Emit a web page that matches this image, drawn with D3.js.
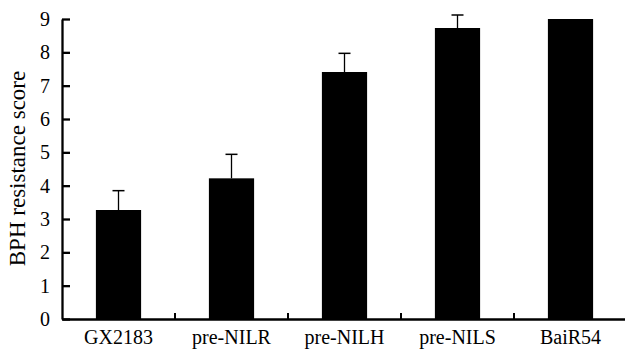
<!DOCTYPE html>
<html>
<head>
<meta charset="utf-8">
<script src="https://cdn.jsdelivr.net/npm/d3@7"></script>
<style>
  body { margin: 0; background: #fff; }
  text { font-family: "Liberation Serif", "Times New Roman", serif; fill: #000; }
</style>
</head>
<body>
<div id="wrapper"></div>
<script>
const lines = ["GX2183", "pre-NILR", "pre-NILH", "pre-NILS", "BaiR54"];
const scores = [3.27, 4.22, 7.41, 8.73, 9.0];
const errors = [0.58, 0.72, 0.56, 0.39, 0];
const yTicks = [0, 1, 2, 3, 4, 5, 6, 7, 8, 9];

const dimensions = {
  width: 625,
  height: 350,
  margins: { top: 19, right: 0, bottom: 31, left: 62 }
};
dimensions.boundedWidth = 565;
dimensions.boundedHeight = dimensions.height - dimensions.margins.top - dimensions.margins.bottom;

const svg = d3.select("#wrapper").append("svg")
  .attr("width", dimensions.width)
  .attr("height", dimensions.height);

const bounds = svg.append("g")
  .attr("transform", `translate(${dimensions.margins.left},${dimensions.margins.top})`);

const xScale = d3.scaleBand()
  .domain(lines)
  .range([0, dimensions.boundedWidth])
  .paddingInner(0.6)
  .paddingOuter(0.3);

const yScale = d3.scaleLinear()
  .domain([0, 9])
  .range([dimensions.boundedHeight, 0]);

// bars
bounds.selectAll("rect.bar")
  .data(lines)
  .enter()
  .append("rect")
  .attr("class", "bar")
  .attr("x", d => xScale(d))
  .attr("width", xScale.bandwidth())
  .attr("y", (d, i) => yScale(scores[i]))
  .attr("height", (d, i) => yScale(0) - yScale(scores[i]))
  .attr("fill", "#000");

// error bars (upper only)
const errG = bounds.selectAll("g.err")
  .data(lines.filter((d, i) => errors[i] > 0))
  .enter()
  .append("g")
  .attr("class", "err");

errG.append("line")
  .attr("x1", d => xScale(d) + xScale.bandwidth() / 2)
  .attr("x2", d => xScale(d) + xScale.bandwidth() / 2)
  .attr("y1", d => yScale(scores[lines.indexOf(d)]))
  .attr("y2", d => yScale(scores[lines.indexOf(d)] + errors[lines.indexOf(d)]))
  .attr("stroke", "#000")
  .attr("stroke-width", 1.3);

errG.append("line")
  .attr("x1", d => xScale(d) + xScale.bandwidth() / 2 - 6)
  .attr("x2", d => xScale(d) + xScale.bandwidth() / 2 + 6)
  .attr("y1", d => yScale(scores[lines.indexOf(d)] + errors[lines.indexOf(d)]))
  .attr("y2", d => yScale(scores[lines.indexOf(d)] + errors[lines.indexOf(d)]))
  .attr("stroke", "#000")
  .attr("stroke-width", 1.5);

// y axis
const yAxis = bounds.append("g")
  .call(d3.axisLeft(yScale).tickValues(yTicks).tickSize(-8).tickPadding(12).tickSizeOuter(0));
yAxis.select(".domain").attr("stroke-width", 2.3);
yAxis.selectAll(".tick line").attr("stroke-width", 2.3);
yAxis.selectAll("text").style("font-size", "20px");

// x axis
const xAxis = bounds.append("g")
  .attr("transform", `translate(0,${dimensions.boundedHeight})`)
  .call(d3.axisBottom(xScale).tickSize(0).tickPadding(11).tickSizeOuter(0));
xAxis.select(".domain").attr("stroke-width", 2.3);
xAxis.selectAll("text").style("font-size", "20px");

// separators between categories on x axis
bounds.append("g")
  .selectAll("line")
  .data(lines)
  .enter()
  .append("line")
  .attr("x1", (d, i) => (i + 1) * dimensions.boundedWidth / lines.length)
  .attr("x2", (d, i) => (i + 1) * dimensions.boundedWidth / lines.length)
  .attr("y1", dimensions.boundedHeight)
  .attr("y2", dimensions.boundedHeight - 6)
  .attr("stroke", "#000")
  .attr("stroke-width", 2);

// y label
svg.append("text")
  .attr("transform", "translate(25,168.5) rotate(-90)")
  .attr("text-anchor", "middle")
  .style("font-size", "23px")
  .text("BPH resistance score");
</script>
</body>
</html>
